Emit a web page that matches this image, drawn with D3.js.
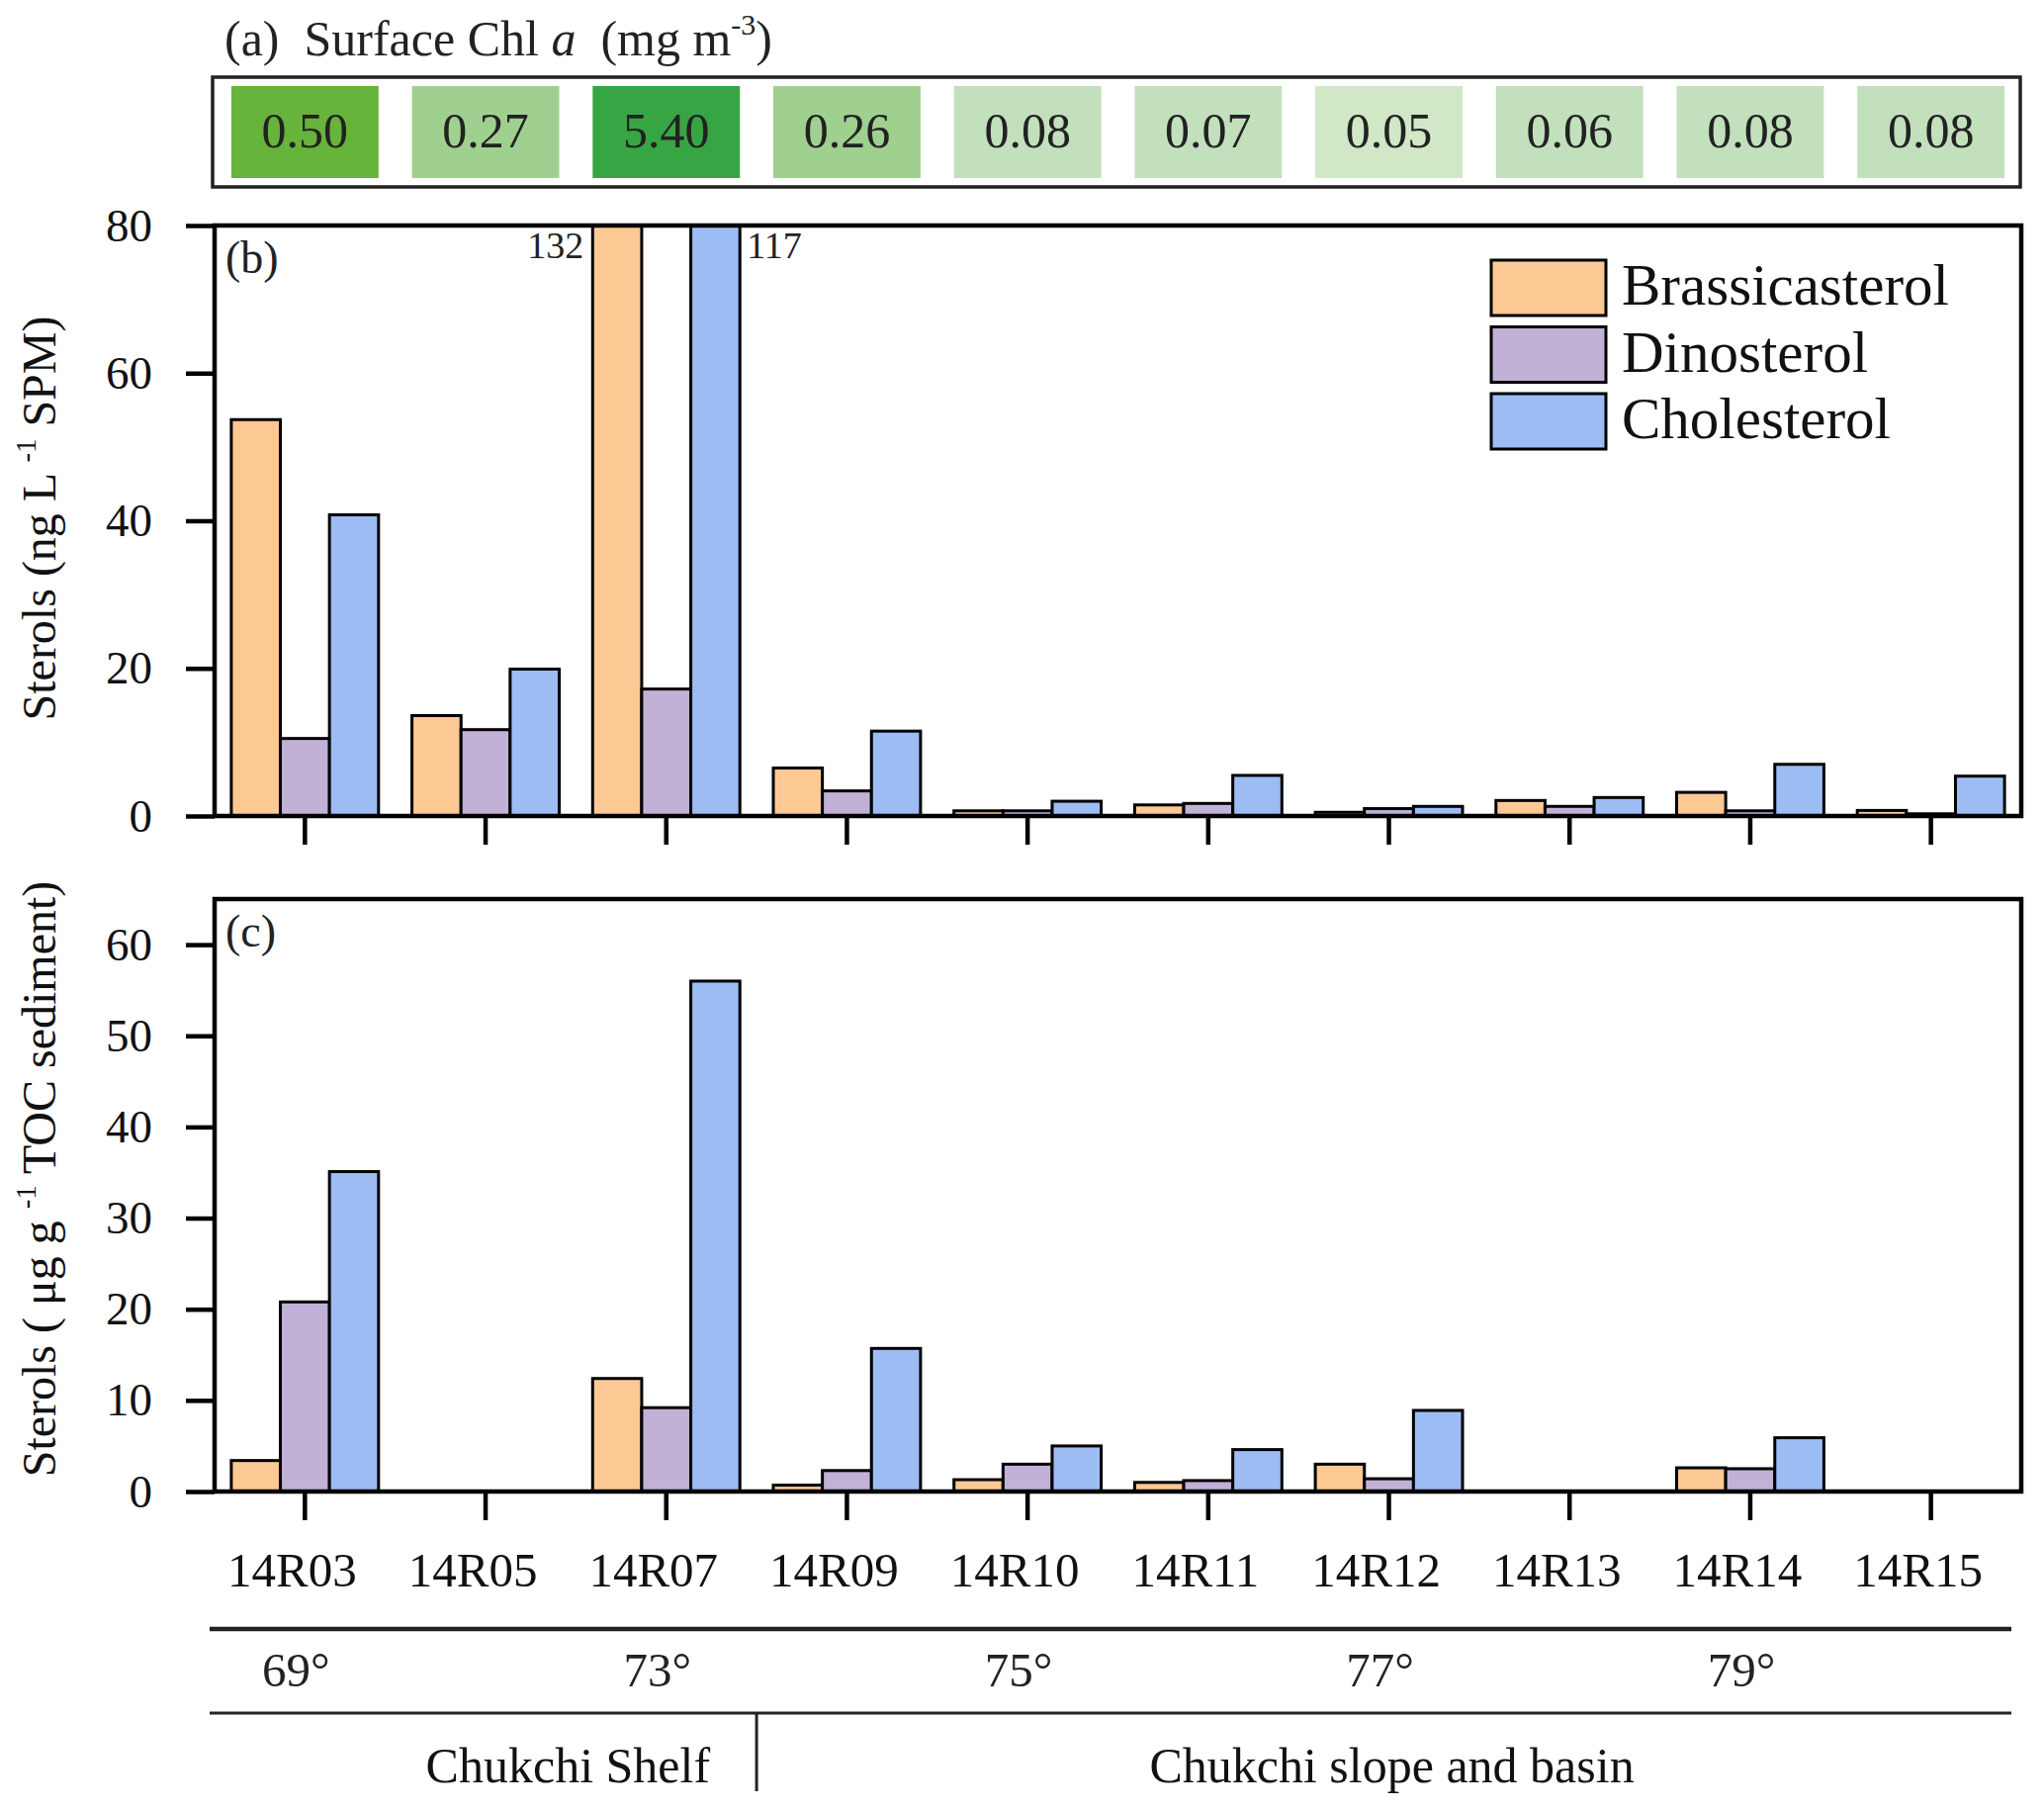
<!DOCTYPE html>
<html lang="en">
<head>
  <meta charset="UTF-8">
  <title>Sterols along the Chukchi transect</title>
  <script src="https://d3js.org/d3.v7.min.js"></script>
  <style>
    body { margin: 0; background: #fff; }
    svg { display: block; font-family: "Liberation Serif", "Times New Roman", serif; }
  </style>
</head>
<body>
  <svg width="2067" height="1830"></svg>
  <script>
    // Stations and surface Chl a
    const stations = ["14R03", "14R05", "14R07", "14R09", "14R10", "14R11", "14R12", "14R13", "14R14", "14R15"];
    const chla = [0.50, 0.27, 5.40, 0.26, 0.08, 0.07, 0.05, 0.06, 0.08, 0.08];
    const seriesNames = ["Brassicasterol", "Dinosterol", "Cholesterol"];

    // (b) ng L-1 SPM
    const brassWater = [53.7, 13.6, 132, 6.5, 0.7, 1.5, 0.5, 2.1, 3.2, 0.75];
    const dinoWater  = [10.5, 11.7, 17.2, 3.4, 0.7, 1.7, 1.0, 1.3, 0.7, 0.3];
    const cholWater  = [40.8, 19.9, 117, 11.5, 2.0, 5.5, 1.3, 2.5, 7.0, 5.4];

    // (c) ug g-1 TOC sediment (null = no sample)
    const brassSed = [3.4, null, 12.4, 0.7, 1.3, 1.0, 3.0, null, 2.6, null];
    const dinoSed  = [20.8, null, 9.2, 2.3, 3.0, 1.2, 1.4, null, 2.5, null];
    const cholSed  = [35.1, null, 56.0, 15.7, 5.0, 4.6, 8.9, null, 5.9, null];

    const waterTicks = [0, 20, 40, 60, 80];
    const sedTicks = [0, 10, 20, 30, 40, 50, 60];
    const latLabels = ["69°", "73°", "75°", "77°", "79°"];
    const latStations = ["14R03", "14R07", "14R10", "14R12", "14R14"];
    const regionNames = ["Chukchi Shelf", "Chukchi slope and basin"];
    const lastShelfStation = "14R07";

    const svg = d3.select("svg");
    const left = 217, right = 2044;

    const x = d3.scaleBand()
                .domain(stations)
                .range([left, right])
                .paddingInner(0.185)
                .paddingOuter(0.0925);
    const sub = d3.scaleBand()
                  .domain(seriesNames)
                  .range([0, x.bandwidth()]);
    const color = d3.scaleOrdinal()
                    .domain(seriesNames)
                    .range(["#fcc894", "#c1b1d7", "#9cbcf3"]);
    const chlaColor = d3.scaleThreshold()
                        .domain([0.055, 0.1, 0.4, 1])
                        .range(["#d1e7c5", "#c3e0bc", "#a0d08f", "#66b43b", "#38a544"]);

    const cx = s => x(s) + x.bandwidth() / 2;

    // superscript helper for tspans
    function addText(sel, parts, size) {
      parts.forEach(p => {
        const t = sel.append("tspan").text(p.t);
        if (p.sup) {
          t.attr("font-size", size * 0.6).attr("dy", -size * 0.42);
        } else if (p.after) {
          t.attr("dy", size * 0.42);
        }
        if (p.it) t.attr("font-style", "italic");
      });
    }

    // ---- (a) surface Chl a ----
    const title = svg.append("text")
                     .attr("x", 227)
                     .attr("y", 56)
                     .attr("font-size", 50)
                     .attr("fill", "#222")
                     .attr("xml:space", "preserve");
    addText(title, [
      { t: "(a)\u00a0 Surface Chl " },
      { t: "a", it: true },
      { t: "\u00a0 (mg m" },
      { t: "-3", sup: true },
      { t: ")", after: true }
    ], 50);

    svg.append("rect")
       .attr("x", 215).attr("y", 78)
       .attr("width", 2043 - 215).attr("height", 189 - 78)
       .attr("fill", "none")
       .attr("stroke", "#222")
       .attr("stroke-width", 3.5);

    const cells = svg.append("g")
                     .selectAll("g")
                     .data(stations.map((s, i) => ({ station: s, value: chla[i] })))
                     .join("g");
    cells.append("rect")
         .attr("x", d => x(d.station))
         .attr("y", 87)
         .attr("width", x.bandwidth())
         .attr("height", 93)
         .attr("fill", d => chlaColor(d.value));
    cells.append("text")
         .attr("x", d => cx(d.station))
         .attr("y", 149)
         .attr("text-anchor", "middle")
         .attr("font-size", 50)
         .attr("fill", "#222")
         .text(d => d.value.toFixed(2));

    // ---- bar panels ----
    function drawPanel(opt) {
      const y = d3.scaleLinear()
                  .domain([0, opt.maxY])
                  .range([opt.bottom, opt.top])
                  .clamp(true);
      const rows = stations.map((s, i) => ({
        station: s,
        values: opt.series.map((vals, j) => ({ name: seriesNames[j], value: vals[i] }))
      }));

      const groups = svg.append("g")
                        .selectAll("g")
                        .data(rows)
                        .join("g")
                        .attr("transform", d => "translate(" + x(d.station) + ",0)");
      groups.selectAll("rect")
            .data(d => d.values.filter(v => v.value != null))
            .join("rect")
            .attr("x", d => sub(d.name))
            .attr("y", d => y(d.value))
            .attr("width", sub.bandwidth())
            .attr("height", d => y(0) - y(d.value))
            .attr("fill", d => color(d.name))
            .attr("stroke", "#000")
            .attr("stroke-width", 3);

      // values beyond the axis
      groups.selectAll("text.over")
            .data(d => d.values.filter(v => v.value != null && v.value > opt.maxY))
            .join("text")
            .attr("class", "over")
            .attr("x", d => d.name === seriesNames[0] ? sub(d.name) - 9 : sub(d.name) + sub.bandwidth() + 7)
            .attr("y", opt.top + 33)
            .attr("text-anchor", d => d.name === seriesNames[0] ? "end" : "start")
            .attr("font-size", 38)
            .attr("fill", "#222")
            .text(d => d.value);

      const yAxis = svg.append("g")
                       .attr("transform", "translate(" + left + ",0)")
                       .call(d3.axisLeft(y).tickValues(opt.ticks).tickSize(29).tickPadding(34));
      const xAxis = svg.append("g")
                       .attr("transform", "translate(0," + opt.bottom + ")")
                       .call(d3.axisBottom(x).tickSize(29).tickPadding(32)
                               .tickFormat(opt.showNames ? d => d : ""));
      [yAxis, xAxis].forEach(a => {
        a.select(".domain").remove();
        a.selectAll(".tick line").attr("stroke", "#000").attr("stroke-width", 4.5);
        a.selectAll(".tick text")
         .attr("font-family", "Liberation Serif, Times New Roman, serif")
         .attr("fill", "#111");
      });
      yAxis.selectAll(".tick text").attr("font-size", 47);
      xAxis.selectAll(".tick text").attr("font-size", 49).attr("dx", -13);

      svg.append("rect")
         .attr("x", left).attr("y", opt.top)
         .attr("width", right - left).attr("height", opt.bottom - opt.top)
         .attr("fill", "none")
         .attr("stroke", "#000")
         .attr("stroke-width", 4.5);

      svg.append("text")
         .attr("x", 228)
         .attr("y", opt.top + 48)
         .attr("font-size", 46)
         .attr("fill", "#222")
         .text(opt.label);

      const yt = svg.append("text")
                    .attr("transform", "translate(56," + opt.titleY + ") rotate(-90)")
                    .attr("text-anchor", "middle")
                    .attr("font-size", 48)
                    .attr("fill", "#111");
      addText(yt, opt.title, 48);
    }

    drawPanel({
      top: 228, bottom: 825, maxY: 80, ticks: waterTicks,
      series: [brassWater, dinoWater, cholWater],
      label: "(b)", showNames: false, titleY: 524,
      title: [{ t: "Sterols (ng L " }, { t: "-1", sup: true }, { t: " SPM)", after: true }]
    });
    drawPanel({
      top: 909, bottom: 1508, maxY: 65, ticks: sedTicks,
      series: [brassSed, dinoSed, cholSed],
      label: "(c)", showNames: true, titleY: 1192,
      title: [{ t: "Sterols ( μg g " }, { t: "-1", sup: true }, { t: " TOC sediment)", after: true }]
    });

    // legend in (b)
    const legend = svg.append("g")
                      .attr("transform", "translate(1508,263)");
    seriesNames.forEach((name, i) => {
      const row = legend.append("g")
                        .attr("transform", "translate(0," + (i * 67.5) + ")");
      row.append("rect")
         .attr("width", 116)
         .attr("height", 56)
         .attr("fill", color(name))
         .attr("stroke", "#000")
         .attr("stroke-width", 3);
      row.append("text")
         .attr("x", 132)
         .attr("y", 45)
         .attr("font-size", 59)
         .attr("fill", "#111")
         .text(name);
    });

    // ---- latitude and region rows ----
    const lineL = 212, lineR = 2034;
    svg.append("line")
       .attr("x1", lineL).attr("x2", lineR)
       .attr("y1", 1647).attr("y2", 1647)
       .attr("stroke", "#222").attr("stroke-width", 4.5);
    svg.append("line")
       .attr("x1", lineL).attr("x2", lineR)
       .attr("y1", 1732).attr("y2", 1732)
       .attr("stroke", "#222").attr("stroke-width", 3);

    svg.append("g")
       .selectAll("text")
       .data(latLabels.map((l, i) => ({ label: l, station: latStations[i] })))
       .join("text")
       .attr("x", d => cx(d.station) - 9)
       .attr("y", 1705)
       .attr("text-anchor", "middle")
       .attr("font-size", 49)
       .attr("fill", "#222")
       .text(d => d.label);

    const nextIdx = stations.indexOf(lastShelfStation) + 1;
    const divider = (cx(lastShelfStation) + cx(stations[nextIdx])) / 2;
    svg.append("line")
       .attr("x1", divider).attr("x2", divider)
       .attr("y1", 1732).attr("y2", 1811)
       .attr("stroke", "#222").attr("stroke-width", 3);

    svg.append("text")
       .attr("x", divider - 47)
       .attr("y", 1802)
       .attr("text-anchor", "end")
       .attr("font-size", 50)
       .attr("fill", "#111")
       .text(regionNames[0]);
    svg.append("text")
       .attr("x", (divider + lineR) / 2 + 8)
       .attr("y", 1802)
       .attr("text-anchor", "middle")
       .attr("font-size", 50)
       .attr("fill", "#111")
       .text(regionNames[1]);
  </script>
</body>
</html>
